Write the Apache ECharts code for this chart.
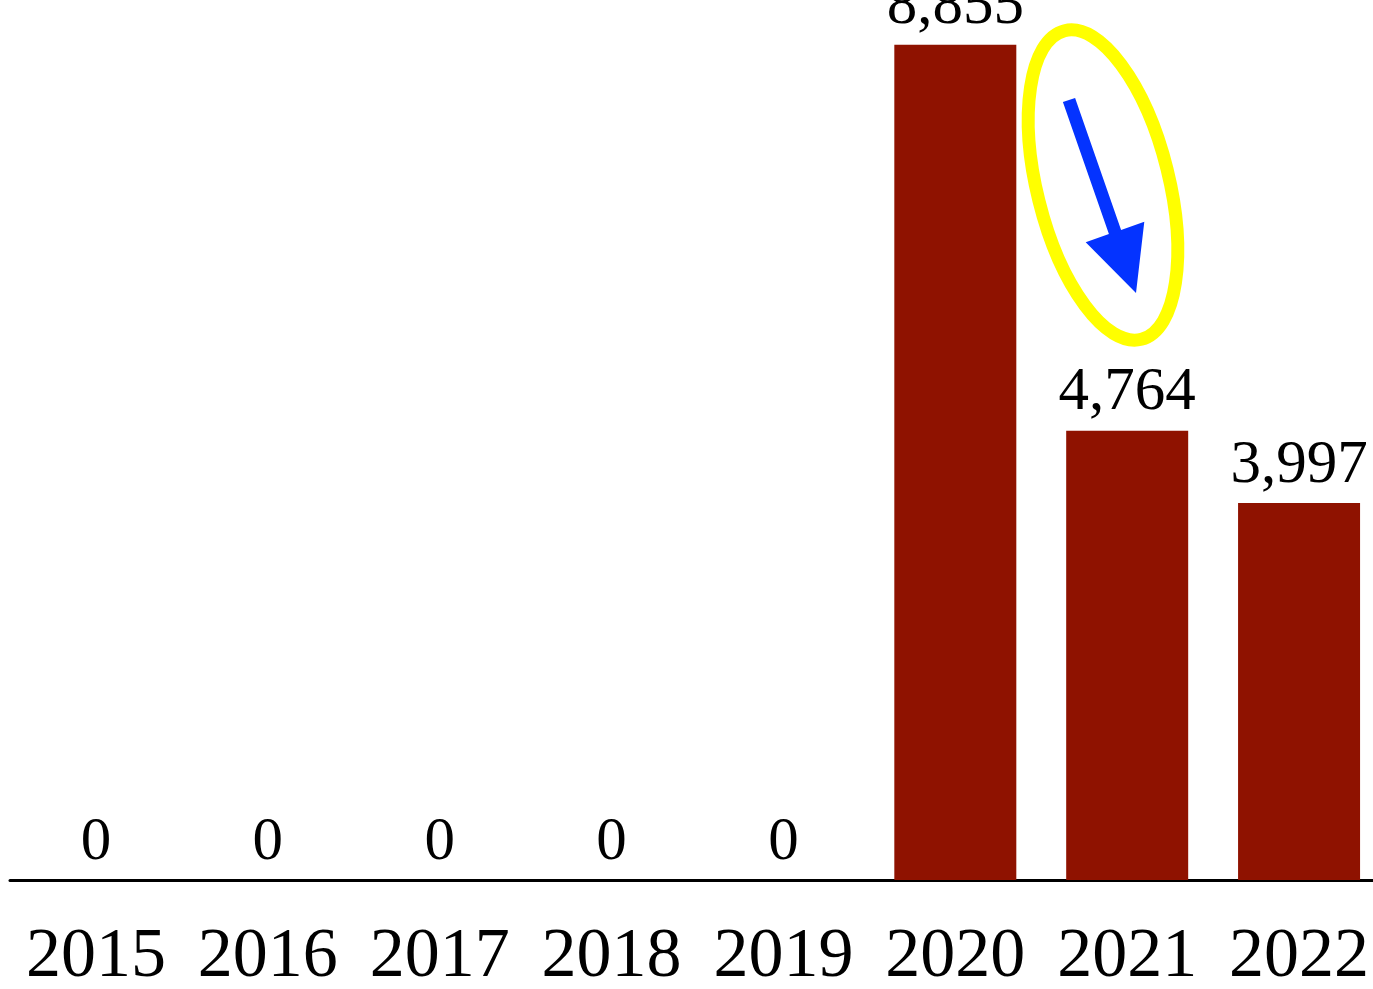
<!DOCTYPE html>
<html>
<head>
<meta charset="utf-8">
<script src="https://cdn.jsdelivr.net/npm/echarts@6/dist/echarts.min.js"></script>
<style>
html,body{margin:0;padding:0;background:#fff;overflow:hidden;}
#chart{width:1400px;height:989px;}
</style>
</head>
<body>
<div id="chart"></div>
<script>
const years = ['2015','2016','2017','2018','2019','2020','2021','2022'];
const counts = [0, 0, 0, 0, 0, 8855, 4764, 3997];

const chart = echarts.init(document.getElementById('chart'));
chart.setOption({
  animation: false,
  backgroundColor: '#ffffff',
  grid: { left: 10, width: 1375, top: 0, height: 880, outerBoundsMode: 'none', containLabel: false },
  xAxis: {
    type: 'category',
    data: years,
    axisLine: { lineStyle: { color: '#000', width: 3 } },
    axisTick: { show: false },
    axisLabel: {
      interval: 0,
      color: '#000',
      fontFamily: 'Liberation Serif',
      fontSize: 70,
      margin: 43
    }
  },
  yAxis: { type: 'value', min: 0, max: 9330, show: false, splitLine: { show: false } },
  series: [{
    type: 'bar',
    data: counts,
    barWidth: 122,
    itemStyle: { color: '#8f1200' },
    label: {
      show: true,
      position: 'top',
      distance: 7,
      color: '#000',
      fontFamily: 'Liberation Serif',
      fontSize: 61,
      formatter: p => p.value.toLocaleString('en-US')
    }
  }],
  graphic: [
    {
      type: 'ellipse',
      x: 1103, y: 185,
      rotation: 0.244,
      shape: { cx: 0, cy: 0, rx: 66, ry: 159 },
      style: { fill: 'none', stroke: '#ffff00', lineWidth: 13 },
      z: 100
    },
    {
      type: 'polygon',
      shape: { points: [[1062.9,102.1],[1075.1,97.9],[1121.1,229.9],[1144.3,221.8],[1136,293],[1085.7,242.2],[1108.9,234.1]] },
      style: { fill: '#0433ff' },
      z: 101
    }
  ]
});
</script>
</body>
</html>
